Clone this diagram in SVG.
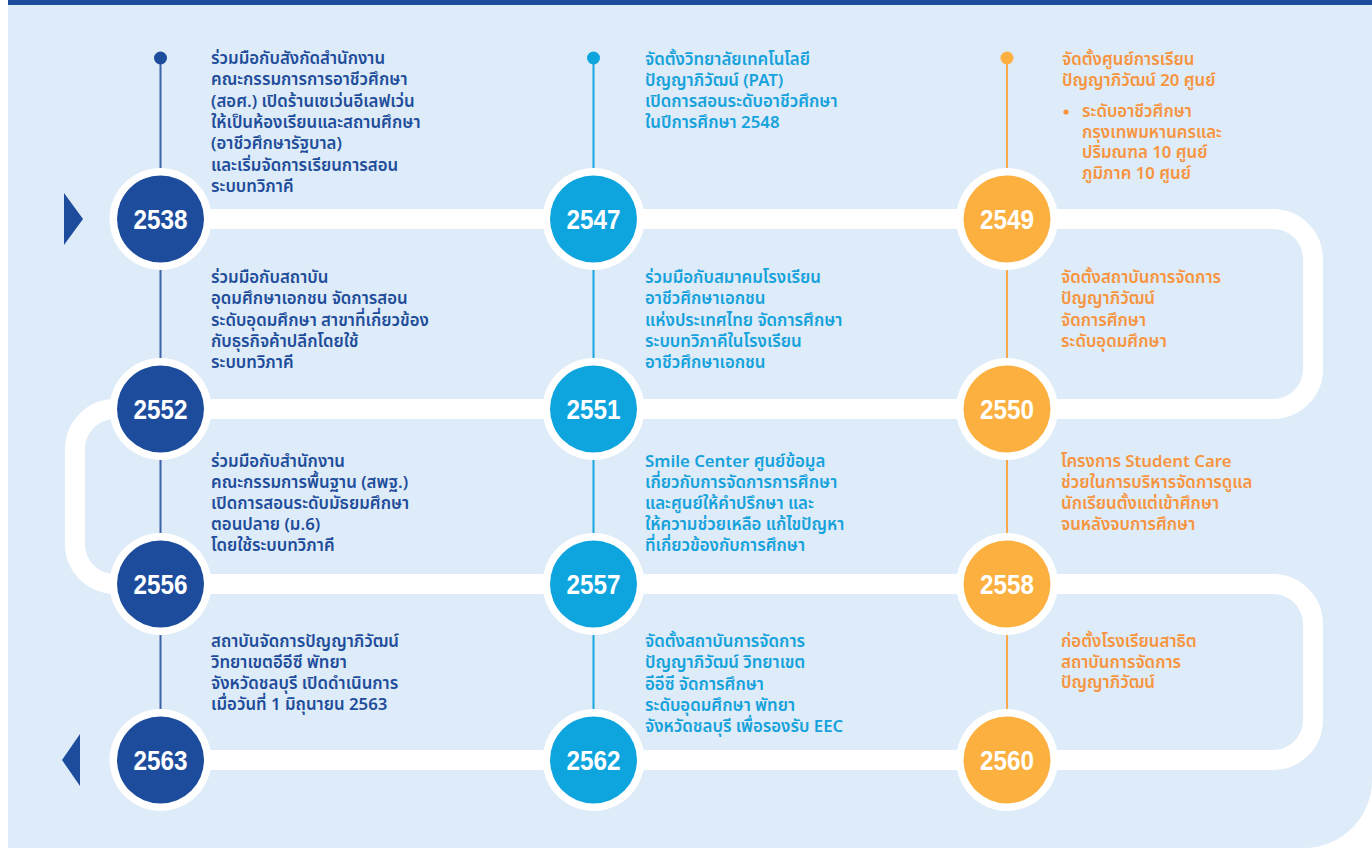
<svg xmlns="http://www.w3.org/2000/svg" width="1372" height="848" viewBox="0 0 1372 848">
<style>
.t{font-family:"Noto Sans Thai","Noto Sans","DejaVu Sans",sans-serif;font-size:16.8px;font-weight:600}
.c1{fill:#1e4d9b}.c2{fill:#15a2dc}.c3{fill:#f7943f}
.yr{font-family:"Liberation Sans",Arial,sans-serif;font-size:28px;font-weight:700;fill:#fff;text-anchor:middle}
.ring{fill:#fff}
.v{stroke-width:2;fill:none}
</style>
<rect x="0" y="0" width="1372" height="848" fill="#fff"/>
<path d="M8 5 H1372 V780 A68 68 0 0 1 1304 848 H8 Z" fill="#deebf8"/>
<rect x="8" y="0" width="1364" height="5" fill="#1d4c9c"/>
<g id="connectors">
<path d="M160 219 H1273 A40 40 0 0 1 1313 259 V369 A40 40 0 0 1 1273 409 H115 A40 40 0 0 0 75 449 V544 A40 40 0 0 0 115 584 H1273 A40 40 0 0 1 1313 624 V720 A40 40 0 0 1 1273 760 H160" fill="none" stroke="#fff" stroke-width="20"/>
<line x1="160.5" y1="58" x2="160.5" y2="760" class="v" stroke="#3d63aa"/>
<line x1="593.5" y1="58" x2="593.5" y2="760" class="v" stroke="#1aa6e0"/>
<line x1="1007" y1="58" x2="1007" y2="760" class="v" stroke="#f9a94a"/>
<circle cx="160.5" cy="58" r="6.5" fill="#1d4c9c"/>
<circle cx="593.5" cy="58" r="6.5" fill="#0ea5df"/>
<circle cx="1007" cy="58" r="6.5" fill="#fbb040"/>
<polygon points="64,193 83,219 64,245" fill="#1d4c9c"/>
<polygon points="80,734 62,760 80,786" fill="#1d4c9c"/>
</g>
<g id="n2538"><circle cx="160.5" cy="219" r="51" class="ring"/><circle cx="160.5" cy="219" r="43.5" fill="#1d4c9c"/><text x="160.5" y="229" class="yr" textLength="54" lengthAdjust="spacingAndGlyphs">2538</text>
<text class="t c1" x="211"><tspan x="211" y="64">ร่วมมือกับสังกัดสำนักงาน</tspan><tspan x="211" y="85.3">คณะกรรมการการอาชีวศึกษา</tspan><tspan x="211" y="106.6">(สอศ.) เปิดร้านเซเว่นอีเลฟเว่น</tspan><tspan x="211" y="128">ให้เป็นห้องเรียนและสถานศึกษา</tspan><tspan x="211" y="149.3">(อาชีวศึกษารัฐบาล)</tspan><tspan x="211" y="170.6">และเริ่มจัดการเรียนการสอน</tspan><tspan x="211" y="192">ระบบทวิภาคี</tspan></text></g>
<g id="n2547"><circle cx="593.5" cy="219" r="51" class="ring"/><circle cx="593.5" cy="219" r="43.5" fill="#0ea5df"/><text x="593.5" y="229" class="yr" textLength="54" lengthAdjust="spacingAndGlyphs">2547</text>
<text class="t c2"><tspan x="645" y="65">จัดตั้งวิทยาลัยเทคโนโลยี</tspan><tspan x="645" y="86">ปัญญาภิวัฒน์ (PAT)</tspan><tspan x="645" y="107">เปิดการสอนระดับอาชีวศึกษา</tspan><tspan x="645" y="128">ในปีการศึกษา 2548</tspan></text></g>
<g id="n2549"><circle cx="1007" cy="219" r="51" class="ring"/><circle cx="1007" cy="219" r="43.5" fill="#fbb040"/><text x="1007" y="229" class="yr" textLength="54" lengthAdjust="spacingAndGlyphs">2549</text>
<text class="t c3"><tspan x="1062" y="65">จัดตั้งศูนย์การเรียน</tspan><tspan x="1062" y="85.5">ปัญญาภิวัฒน์ 20 ศูนย์</tspan><tspan x="1082" y="117">ระดับอาชีวศึกษา</tspan><tspan x="1082" y="137.7">กรุงเทพมหานครและ</tspan><tspan x="1082" y="158.4">ปริมณฑล 10 ศูนย์</tspan><tspan x="1082" y="179">ภูมิภาค 10 ศูนย์</tspan></text>
<circle cx="1066" cy="112" r="2.6" fill="#f7943f"/></g>
<g id="n2552"><circle cx="160.5" cy="409" r="51" class="ring"/><circle cx="160.5" cy="409" r="43.5" fill="#1d4c9c"/><text x="160.5" y="419" class="yr" textLength="54" lengthAdjust="spacingAndGlyphs">2552</text>
<text class="t c1"><tspan x="211" y="283">ร่วมมือกับสถาบัน</tspan><tspan x="211" y="304.2">อุดมศึกษาเอกชน จัดการสอน</tspan><tspan x="211" y="325.5">ระดับอุดมศึกษา สาขาที่เกี่ยวข้อง</tspan><tspan x="211" y="346.7">กับธุรกิจค้าปลีกโดยใช้</tspan><tspan x="211" y="368">ระบบทวิภาคี</tspan></text></g>
<g id="n2551"><circle cx="593.5" cy="409" r="51" class="ring"/><circle cx="593.5" cy="409" r="43.5" fill="#0ea5df"/><text x="593.5" y="419" class="yr" textLength="54" lengthAdjust="spacingAndGlyphs">2551</text>
<text class="t c2"><tspan x="645" y="283">ร่วมมือกับสมาคมโรงเรียน</tspan><tspan x="645" y="304.2">อาชีวศึกษาเอกชน</tspan><tspan x="645" y="325.5">แห่งประเทศไทย จัดการศึกษา</tspan><tspan x="645" y="346.7">ระบบทวิภาคีในโรงเรียน</tspan><tspan x="645" y="368">อาชีวศึกษาเอกชน</tspan></text></g>
<g id="n2550"><circle cx="1007" cy="409" r="51" class="ring"/><circle cx="1007" cy="409" r="43.5" fill="#fbb040"/><text x="1007" y="419" class="yr" textLength="54" lengthAdjust="spacingAndGlyphs">2550</text>
<text class="t c3"><tspan x="1061" y="283">จัดตั้งสถาบันการจัดการ</tspan><tspan x="1061" y="304.3">ปัญญาภิวัฒน์</tspan><tspan x="1061" y="325.6">จัดการศึกษา</tspan><tspan x="1061" y="347">ระดับอุดมศึกษา</tspan></text></g>
<g id="n2556"><circle cx="160.5" cy="584" r="51" class="ring"/><circle cx="160.5" cy="584" r="43.5" fill="#1d4c9c"/><text x="160.5" y="594" class="yr" textLength="54" lengthAdjust="spacingAndGlyphs">2556</text>
<text class="t c1"><tspan x="211" y="467">ร่วมมือกับสำนักงาน</tspan><tspan x="211" y="488">คณะกรรมการพื้นฐาน (สพฐ.)</tspan><tspan x="211" y="509">เปิดการสอนระดับมัธยมศึกษา</tspan><tspan x="211" y="530">ตอนปลาย (ม.6)</tspan><tspan x="211" y="551">โดยใช้ระบบทวิภาคี</tspan></text></g>
<g id="n2557"><circle cx="593.5" cy="584" r="51" class="ring"/><circle cx="593.5" cy="584" r="43.5" fill="#0ea5df"/><text x="593.5" y="594" class="yr" textLength="54" lengthAdjust="spacingAndGlyphs">2557</text>
<text class="t c2"><tspan x="645" y="467">Smile Center ศูนย์ข้อมูล</tspan><tspan x="645" y="488">เกี่ยวกับการจัดการการศึกษา</tspan><tspan x="645" y="509">และศูนย์ให้คำปรึกษา และ</tspan><tspan x="645" y="530">ให้ความช่วยเหลือ แก้ไขปัญหา</tspan><tspan x="645" y="551">ที่เกี่ยวข้องกับการศึกษา</tspan></text></g>
<g id="n2558"><circle cx="1007" cy="584" r="51" class="ring"/><circle cx="1007" cy="584" r="43.5" fill="#fbb040"/><text x="1007" y="594" class="yr" textLength="54" lengthAdjust="spacingAndGlyphs">2558</text>
<text class="t c3"><tspan x="1061" y="467">โครงการ Student Care</tspan><tspan x="1061" y="488">ช่วยในการบริหารจัดการดูแล</tspan><tspan x="1061" y="509">นักเรียนตั้งแต่เข้าศึกษา</tspan><tspan x="1061" y="530">จนหลังจบการศึกษา</tspan></text></g>
<g id="n2563"><circle cx="160.5" cy="760" r="51" class="ring"/><circle cx="160.5" cy="760" r="43.5" fill="#1d4c9c"/><text x="160.5" y="770" class="yr" textLength="54" lengthAdjust="spacingAndGlyphs">2563</text>
<text class="t c1"><tspan x="211" y="647">สถาบันจัดการปัญญาภิวัฒน์</tspan><tspan x="211" y="668">วิทยาเขตอีอีซี พัทยา</tspan><tspan x="211" y="689">จังหวัดชลบุรี เปิดดำเนินการ</tspan><tspan x="211" y="710">เมื่อวันที่ 1 มิถุนายน 2563</tspan></text></g>
<g id="n2562"><circle cx="593.5" cy="760" r="51" class="ring"/><circle cx="593.5" cy="760" r="43.5" fill="#0ea5df"/><text x="593.5" y="770" class="yr" textLength="54" lengthAdjust="spacingAndGlyphs">2562</text>
<text class="t c2"><tspan x="645" y="647">จัดตั้งสถาบันการจัดการ</tspan><tspan x="645" y="668.2">ปัญญาภิวัฒน์ วิทยาเขต</tspan><tspan x="645" y="689.5">อีอีซี จัดการศึกษา</tspan><tspan x="645" y="710.7">ระดับอุดมศึกษา พัทยา</tspan><tspan x="645" y="732">จังหวัดชลบุรี เพื่อรองรับ EEC</tspan></text></g>
<g id="n2560"><circle cx="1007" cy="760" r="51" class="ring"/><circle cx="1007" cy="760" r="43.5" fill="#fbb040"/><text x="1007" y="770" class="yr" textLength="54" lengthAdjust="spacingAndGlyphs">2560</text>
<text class="t c3"><tspan x="1061" y="647">ก่อตั้งโรงเรียนสาธิต</tspan><tspan x="1061" y="667.5">สถาบันการจัดการ</tspan><tspan x="1061" y="688">ปัญญาภิวัฒน์</tspan></text></g>
</svg>
